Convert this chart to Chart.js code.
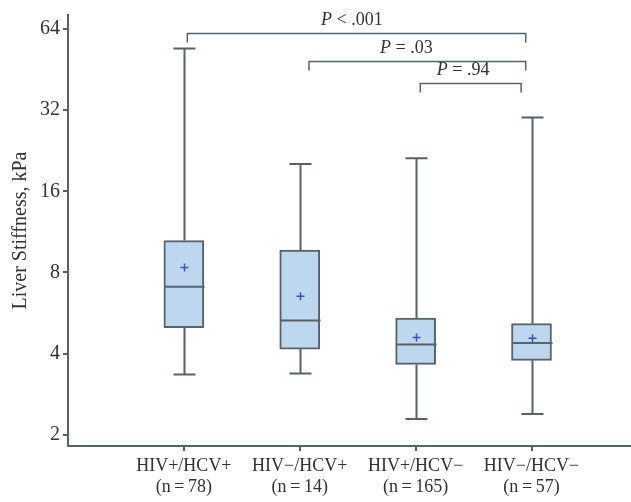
<!DOCTYPE html>
<html>
<head>
<meta charset="utf-8">
<script src="https://cdn.jsdelivr.net/npm/chart.js@4"></script>
<style>
  html, body { margin: 0; padding: 0; background: #fff; }
  #wrap { width: 631px; height: 502px; }
</style>
</head>
<body>
<div id="wrap"><canvas id="boxChart"></canvas></div>
<script>
// grupos y tamaños de muestra
const grupos = ["HIV+/HCV+", "HIV\u2212/HCV+", "HIV+/HCV\u2212", "HIV\u2212/HCV\u2212"];
const nMuestra = [78, 14, 165, 57];
const posX = [1, 2, 3, 4];

// estadísticos de cada caja (kPa)
const minimos = [3.35, 3.38, 2.29, 2.39];
const q1 = [5.0, 4.16, 3.65, 3.78];
const medianas = [7.09, 5.31, 4.33, 4.38];
const q3 = [10.5, 9.69, 5.42, 5.17];
const maximos = [54.1, 20.2, 21.2, 30.0];
const medias = [8.35, 6.53, 4.59, 4.56];

// ticks del eje y
const ticksY = [2, 4, 8, 16, 32, 64];

// comparaciones: grupo desde, grupo hasta, altura (kPa), texto
const compDesde = [1.03, 2.08, 3.04];
const compHasta = [3.95, 3.95, 3.91];
const compAltura = [61.5, 48.6, 40.2];
const compTextoX = [2.45, 2.92, 3.41];
const compTexto = [["P", " < .001"], ["P", " = .03"], ["P", " = .94"]];

const gris = "#58626b";
const serif = "'Liberation Serif', 'Times New Roman', serif";

const dibujoCajas = {
  id: "dibujoCajas",
  afterDatasetsDraw(chart) {
    const { ctx, scales: { x, y } } = chart;
    ctx.save();
    ctx.strokeStyle = gris;
    ctx.lineWidth = 2;
    posX.forEach((p, i) => {
      const cx = Math.round(x.getPixelForValue(p)) + 0.5;
      const half = 20, cap = 11;
      const yMax = y.getPixelForValue(maximos[i]);
      const yMin = y.getPixelForValue(minimos[i]);
      const yQ1 = y.getPixelForValue(q1[i]);
      const yQ3 = y.getPixelForValue(q3[i]);
      const yMed = y.getPixelForValue(medianas[i]);
      ctx.beginPath();
      // bigotes
      ctx.moveTo(cx, yQ3); ctx.lineTo(cx, yMax);
      ctx.moveTo(cx - cap, yMax); ctx.lineTo(cx + cap, yMax);
      ctx.moveTo(cx, yQ1); ctx.lineTo(cx, yMin);
      ctx.moveTo(cx - cap, yMin); ctx.lineTo(cx + cap, yMin);
      // mediana
      ctx.moveTo(cx - half, yMed); ctx.lineTo(cx + half, yMed);
      ctx.stroke();
      // media
      const yMean = y.getPixelForValue(medias[i]);
      ctx.beginPath();
      ctx.strokeStyle = "#3a55b8";
      ctx.lineWidth = 1.5;
      ctx.moveTo(cx - 4, yMean); ctx.lineTo(cx + 4, yMean);
      ctx.moveTo(cx, yMean - 4); ctx.lineTo(cx, yMean + 4);
      ctx.stroke();
      ctx.strokeStyle = gris;
      ctx.lineWidth = 2;
    });

    // corchetes con valores P
    ctx.lineWidth = 1.5;
    ctx.fillStyle = "#333";
    compDesde.forEach((d, i) => {
      const x1 = x.getPixelForValue(d);
      const x2 = x.getPixelForValue(compHasta[i]);
      const yy = Math.round(y.getPixelForValue(compAltura[i])) + 0.5;
      ctx.beginPath();
      ctx.moveTo(x1, yy + 9); ctx.lineTo(x1, yy); ctx.lineTo(x2, yy); ctx.lineTo(x2, yy + 9);
      ctx.stroke();
      const [pLetra, resto] = compTexto[i];
      ctx.font = "italic 18px " + serif;
      const w1 = ctx.measureText(pLetra).width;
      ctx.font = "18px " + serif;
      const w2 = ctx.measureText(resto).width;
      const xs = x.getPixelForValue(compTextoX[i]) - (w1 + w2) / 2;
      ctx.textBaseline = "alphabetic";
      ctx.textAlign = "left";
      ctx.font = "italic 18px " + serif;
      ctx.fillText(pLetra, xs, yy - 9);
      ctx.font = "18px " + serif;
      ctx.fillText(resto, xs + w1, yy - 9);
    });
    ctx.restore();
  }
};

new Chart(document.getElementById("boxChart"), {
  type: "bar",
  data: {
    datasets: [{
      data: posX.map((p, i) => ({ x: p, y: [q1[i], q3[i]] })),
      backgroundColor: "#bdd7ee",
      borderColor: gris,
      borderWidth: 2,
      borderSkipped: false,
      barThickness: 40
    }]
  },
  plugins: [dibujoCajas],
  options: {
    responsive: true,
    maintainAspectRatio: false,
    animation: false,
    layout: { padding: { top: 12, right: 1, left: 9, bottom: 0 } },
    plugins: {
      legend: { display: false },
      tooltip: { enabled: false }
    },
    scales: {
      x: {
        type: "linear",
        min: 0,
        max: 4.85,
        offset: false,
        afterBuildTicks: (s) => { s.ticks = posX.map(v => ({ value: v })); },
        afterFit: (s) => { s.height = 56; },
        ticks: {
          autoSkip: false,
          maxRotation: 0,
          padding: 4,
          color: "#333",
          font: { family: serif, size: 18, lineHeight: 1.2 },
          callback: (v) => {
            const i = posX.indexOf(v);
            return i < 0 ? "" : [grupos[i], "(n\u2009=\u2009" + nMuestra[i] + ")"];
          }
        },
        grid: { offset: false, drawOnChartArea: false, drawTicks: true, tickLength: 5, color: gris, lineWidth: 2 },
        border: { color: gris, width: 2 }
      },
      y: {
        type: "logarithmic",
        min: 1.82,
        max: 72,
        afterBuildTicks: (s) => { s.ticks = ticksY.map(v => ({ value: v })); },
        afterFit: (s) => { s.width = 59; },
        title: {
          display: true,
          text: "Liver Stiffness, kPa",
          color: "#333",
          font: { family: serif, size: 20 },
          padding: { top: 0, bottom: 4 }
        },
        ticks: {
          autoSkip: false,
          padding: 3,
          color: "#333",
          font: { family: serif, size: 20 },
          callback: (v) => ticksY.includes(v) ? String(v) : ""
        },
        grid: { drawOnChartArea: false, drawTicks: true, tickLength: 5, color: gris, lineWidth: 2 },
        border: { color: gris, width: 2 }
      }
    }
  }
});
</script>
</body>
</html>
